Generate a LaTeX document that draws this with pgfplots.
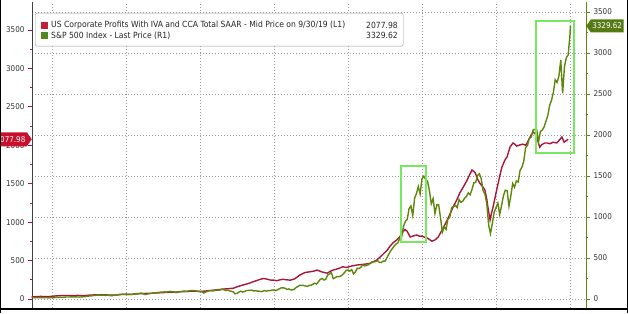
\documentclass[border=0pt]{standalone}
\usepackage{pgfplots}
\pgfplotsset{compat=1.18}
\usepackage{fontspec}
\setmainfont{DejaVu Sans Condensed}
\usetikzlibrary{shapes.symbols}
\definecolor{profred}{HTML}{A8173A}
\definecolor{spgreen}{HTML}{5E870C}
\definecolor{legred}{HTML}{C41E3A}
\definecolor{leggreen}{HTML}{4E8A1E}
\definecolor{boxgreen}{HTML}{77E860}
\definecolor{tagred}{HTML}{C8102E}
\definecolor{taggreen}{HTML}{557A14}
\definecolor{gridgray}{HTML}{9A9A9A}
\begin{document}
\begin{tikzpicture}[x=1pt,y=1pt]
\pgfplotsset{
  common/.style={
    at={(32pt,5pt)}, anchor=south west, scale only axis,
    width=554pt, height=306pt,
    xmin=1947.3, xmax=2022.16,
    clip=false, set layers,
    ticklabel style={font=\fontsize{8}{9}\selectfont, text=black!80},
    /pgf/number format/assume math mode=true,
    /pgf/number format/1000 sep={},
    ytick={0,500,...,3500},
    minor y tick num=1,
    tick align=outside,
    major tick length=4pt, minor tick length=2pt,
    grid style={gridgray, line width=0.6pt, dash pattern=on 0.8pt off 2.2pt},
  }
}
\begin{axis}[common,
  ymin=-117, ymax=3864,
  axis y line*=left, axis x line*=bottom,
  x axis line style={draw=none},
  xtick={1950,1960,...,2020}, xticklabels={},
  xtick style={draw=none},
  xmajorgrids,
  y axis line style={black!75, line width=0.6pt},
  ytick style={profred, line width=0.7pt},
]
\addplot[profred, line width=1.4pt] table {
1947.25 28
1947.75 30
1948.5 34
1949.25 30
1949.75 33
1950.5 40
1951.25 45
1952.0 46
1952.75 44
1953.5 47
1954.2 43
1955.0 50
1955.75 54
1956.5 55
1957.25 54
1958.0 50
1958.75 52
1959.5 60
1960.25 60
1961.0 63
1961.75 68
1962.5 72
1963.25 74
1964.0 78
1964.75 82
1965.5 86
1966.25 90
1967.0 92
1967.75 96
1968.5 100
1969.25 102
1970.0 98
1970.75 104
1971.5 112
1972.3 120
1973.0 128
1973.75 134
1974.5 140
1975.2 165
1975.8 182
1976.5 200
1977.2 225
1977.8 245
1978.5 267
1979.0 260
1979.5 247
1980.0 245
1980.4 238
1980.8 250
1981.2 256
1981.7 250
1982.2 245
1982.8 262
1983.5 312
1984.2 345
1984.9 355
1985.5 365
1985.8 377
1986.5 352
1987.2 336
1987.6 360
1988.0 377
1988.7 395
1989.3 420
1989.8 410
1990.5 430
1991.2 442
1991.8 448
1992.4 455
1993.0 464
1993.5 490
1993.9 507
1994.6 570
1995.3 637
1995.7 690
1996.1 732
1996.6 770
1997.0 810
1997.4 870
1997.7 905
1998.0 880
1998.4 807
1998.8 820
1999.3 833
1999.7 815
2000.0 820
2000.4 800
2000.7 794
2001.0 775
2001.35 752
2001.75 768
2002.2 807
2002.7 898
2003.0 950
2003.4 1028
2003.8 1110
2004.2 1197
2004.7 1290
2005.1 1379
2005.6 1460
2006.1 1548
2006.5 1630
2006.75 1678
2007.0 1660
2007.2 1639
2007.5 1560
2007.8 1509
2008.2 1460
2008.5 1418
2008.75 1300
2008.9 1197
2009.2 1028
2009.4 1120
2009.6 1197
2010.0 1380
2010.3 1509
2010.6 1640
2010.8 1717
2011.2 1808
2011.5 1850
2011.9 1978
2012.3 2030
2012.6 2010
2012.8 1990
2013.2 2004
2013.6 2015
2014.0 2000
2014.2 2030
2014.6 2108
2015.0 2173
2015.3 2150
2015.5 2108
2015.9 1975
2016.2 2010
2016.6 2030
2016.9 2030
2017.3 2020
2017.7 2040
2018.2 2030
2018.5 2060
2018.9 2108
2019.2 2040
2019.5 2060
2019.75 2078
};
\node[signal, signal to=east, signal pointer angle=110, fill=tagred, text=white,
  inner sep=1.5pt, minimum height=14pt, anchor=east,
  font=\fontsize{8}{9}\selectfont] at (axis cs:1947.3,2077.98) {2077.98};
\end{axis}
\begin{axis}[common,
  ymin=-110, ymax=3622,
  axis y line*=right, axis x line=none,
  ymajorgrids,
  y axis line style={spgreen, line width=0.7pt},
  ytick style={spgreen, line width=0.7pt},
]
\addplot[spgreen, line width=1.4pt] table {
1947.25 15.2
1947.5 15.1
1947.75 15.2
1948.0 15.3
1948.25 15.0
1948.5 16.7
1948.75 15.5
1949.0 15.2
1949.25 15.1
1949.5 14.2
1949.75 15.6
1950.0 16.8
1950.25 17.3
1950.5 17.7
1950.75 19.5
1951.0 20.4
1951.25 21.5
1951.5 21.0
1951.75 23.3
1952.0 23.8
1952.25 24.4
1952.5 25.0
1952.75 25.0
1953.0 26.6
1953.25 25.3
1953.5 24.1
1953.75 23.4
1954.0 24.8
1954.25 26.9
1954.5 29.2
1954.75 32.3
1955.0 36.0
1955.25 36.6
1955.5 41.0
1955.75 43.7
1956.0 45.5
1956.25 48.5
1956.5 47.0
1956.75 45.4
1957.0 46.7
1957.25 44.1
1957.5 47.4
1957.75 42.4
1958.0 40.0
1958.25 42.1
1958.5 45.2
1958.75 50.1
1959.0 55.2
1959.25 55.4
1959.5 58.5
1959.75 56.9
1960.0 59.9
1960.25 55.3
1960.5 56.9
1960.75 53.5
1961.0 58.1
1961.25 65.1
1961.5 64.6
1961.75 66.7
1962.0 71.6
1962.25 69.6
1962.5 54.8
1962.75 56.3
1963.0 63.1
1963.25 66.6
1963.5 69.4
1963.75 71.7
1964.0 75.0
1964.25 79.0
1964.5 81.7
1964.75 84.2
1965.0 84.8
1965.25 86.2
1965.5 84.1
1965.75 90.0
1966.0 92.4
1966.25 89.2
1966.5 84.7
1966.75 77.8
1967.0 80.3
1967.25 90.2
1967.5 90.6
1967.75 96.7
1968.0 96.5
1968.25 90.2
1968.5 99.6
1968.75 102.7
1969.0 103.9
1969.25 101.5
1969.5 97.7
1969.75 93.1
1970.0 92.1
1970.25 89.6
1970.5 72.7
1970.75 84.2
1971.0 92.2
1971.25 100.3
1971.5 99.7
1971.75 98.3
1972.0 102.1
1972.25 107.2
1972.5 107.1
1972.75 110.6
1973.0 118.1
1973.25 111.5
1973.5 104.3
1973.75 108.4
1974.0 97.6
1974.25 94.0
1974.5 86.0
1974.75 63.5
1975.0 68.6
1975.25 83.4
1975.5 95.2
1975.75 83.9
1976.0 90.2
1976.25 102.8
1976.5 104.3
1976.75 105.2
1977.0 107.5
1977.25 98.4
1977.5 100.5
1977.75 96.5
1978.0 95.1
1978.25 89.2
1978.5 95.5
1978.75 102.5
1979.0 96.1
1979.25 101.6
1979.5 102.9
1979.75 109.3
1980.0 107.9
1980.25 102.1
1980.5 114.2
1980.75 125.5
1981.0 135.8
1981.25 136.0
1981.5 131.2
1981.75 116.2
1982.0 122.6
1982.25 112.0
1982.5 109.6
1982.75 120.4
1983.0 140.6
1983.25 153.0
1983.5 168.1
1983.75 166.1
1984.0 164.9
1984.25 159.2
1984.5 153.2
1984.75 166.1
1985.0 167.2
1985.25 180.7
1985.5 191.9
1985.75 182.1
1986.0 211.3
1986.25 238.9
1986.5 250.8
1986.75 231.3
1987.0 242.2
1987.25 291.7
1987.5 304.0
1987.75 321.8
1988.0 247.1
1988.25 258.9
1988.5 273.5
1988.75 271.9
1989.0 277.7
1989.25 294.9
1989.5 318.0
1989.75 349.2
1990.0 353.4
1990.25 339.9
1990.5 358.0
1990.75 306.0
1991.0 330.2
1991.25 375.2
1991.5 371.2
1991.75 387.9
1992.0 417.1
1992.25 403.7
1992.5 408.1
1992.75 417.8
1993.0 435.7
1993.25 451.7
1993.5 450.5
1993.75 458.9
1994.0 466.5
1994.25 445.8
1994.5 444.3
1994.75 462.7
1995.0 459.3
1995.25 500.7
1995.5 544.8
1995.75 584.4
1996.0 615.9
1996.25 645.5
1996.5 670.6
1996.75 687.3
1997.0 740.7
1997.25 757.1
1997.5 885.1
1997.75 947.3
1998.0 970.4
1998.25 1101.8
1998.5 1133.8
1998.75 1017.0
1999.0 1229.2
1999.25 1286.4
1999.5 1372.7
1999.75 1282.7
2000.0 1469.3
2000.25 1498.6
2000.5 1454.6
2000.75 1436.5
2001.0 1320.3
2001.25 1160.3
2001.5 1224.4
2001.75 1040.9
2002.0 1148.1
2002.25 1147.4
2002.5 989.8
2002.75 815.3
2003.0 879.8
2003.25 848.2
2003.5 974.5
2003.75 996.0
2004.0 1111.9
2004.25 1126.2
2004.5 1140.8
2004.75 1114.6
2005.0 1211.9
2005.25 1180.6
2005.5 1191.3
2005.75 1228.8
2006.0 1248.3
2006.25 1294.8
2006.5 1270.2
2006.75 1335.9
2007.0 1418.3
2007.25 1420.9
2007.5 1503.4
2007.75 1526.8
2008.0 1468.4
2008.25 1322.7
2008.5 1280.0
2008.75 1166.4
2009.0 903.3
2009.25 797.9
2009.5 919.3
2009.75 1057.1
2010.0 1115.1
2010.25 1169.4
2010.5 1030.7
2010.75 1141.2
2011.0 1257.6
2011.25 1325.8
2011.5 1320.6
2011.75 1131.4
2012.0 1257.6
2012.25 1408.5
2012.5 1362.2
2012.75 1440.7
2013.0 1426.2
2013.25 1569.2
2013.5 1606.3
2013.75 1681.6
2014.0 1848.4
2014.25 1872.3
2014.5 1960.2
2014.75 1972.3
2015.0 2058.9
2015.25 2067.9
2015.5 2063.1
2015.75 1920.0
2016.0 2043.9
2016.25 2059.7
2016.5 2098.9
2016.75 2168.3
2017.0 2238.8
2017.25 2362.7
2017.5 2423.4
2017.75 2519.4
2018.0 2673.6
2018.25 2640.9
2018.5 2718.4
2018.75 2914.0
2019.0 2506.9
2019.25 2834.4
2019.5 2941.8
2019.75 2976.7
2020.0 3230.8
2020.05 3329.6
};
\draw[boxgreen, line width=2pt] (axis cs:1997.16,695) rectangle (axis cs:2000.54,1622);
\draw[boxgreen, line width=2pt] (axis cs:2015.41,1780) rectangle (axis cs:2020.54,3390);
\node[signal, signal to=west, signal pointer angle=110, fill=taggreen, text=white,
  inner sep=1.5pt, minimum height=13pt, anchor=west,
  font=\fontsize{8}{9}\selectfont] at (axis cs:2022.16,3329.62) {3329.62};
\end{axis}
% legend
\node[draw=gray!80, rounded corners=2pt, fill=white, anchor=north west,
  minimum width=368pt, minimum height=33pt, inner sep=0pt] at (35,300) {};
\node[anchor=west, inner sep=0pt, font=\fontsize{8.5}{10}\selectfont, text=black!85] at (41,287.5)
  {\textcolor{legred}{\rule[-1pt]{7pt}{7pt}}\hspace{3pt}US Corporate Profits With IVA and CCA Total SAAR - Mid Price on 9/30/19 (L1)};
\node[anchor=east, inner sep=0pt, font=\fontsize{8.5}{10}\selectfont, text=black!85] at (398,287.5) {2077.98};
\node[anchor=west, inner sep=0pt, font=\fontsize{8.5}{10}\selectfont, text=black!85] at (41,277.5)
  {\textcolor{leggreen}{\rule[-1pt]{7pt}{7pt}}\hspace{3pt}S\&P 500 Index - Last Price (R1)};
\node[anchor=east, inner sep=0pt, font=\fontsize{8.5}{10}\selectfont, text=black!85] at (398,277.5) {3329.62};
% frame
\draw[black, line width=1.2pt] (0.6,0) -- (0.6,313);
\draw[black, line width=1.2pt] (627.4,0) -- (627.4,313);
\draw[black, line width=1.2pt] (0,4) -- (628,4);
\pgfresetboundingbox
\path[use as bounding box] (0,0) rectangle (628,313);
\end{tikzpicture}
\end{document}
